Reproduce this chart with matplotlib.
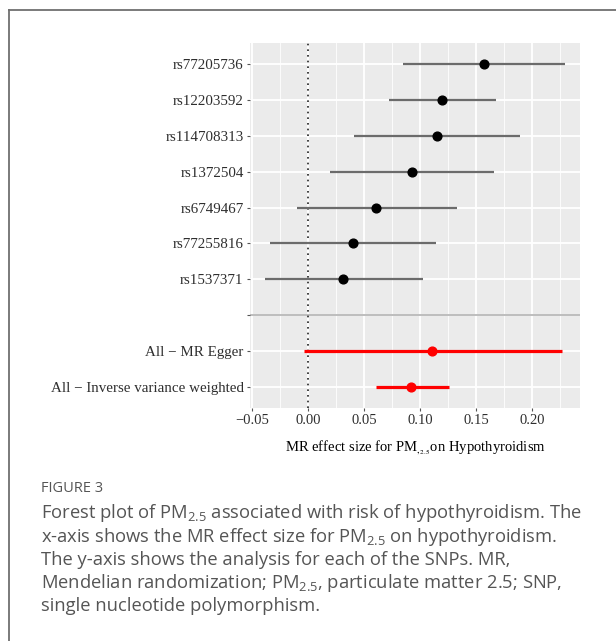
import matplotlib
matplotlib.use("Agg")
import matplotlib.pyplot as plt

# forest plot values
snps = ["rs77205736", "rs12203592", "rs114708313", "rs1372504",
        "rs6749467", "rs77255816", "rs1537371"]
snp_b = [0.157, 0.120, 0.115, 0.093, 0.061, 0.040, 0.031]
snp_lo = [0.085, 0.072, 0.041, 0.020, -0.010, -0.034, -0.038]
snp_hi = [0.229, 0.168, 0.189, 0.166, 0.133, 0.114, 0.103]

methods = ["All \u2212 MR Egger", "All \u2212 Inverse variance weighted"]
meth_b = [0.111, 0.092]
meth_lo = [-0.004, 0.061]
meth_hi = [0.227, 0.126]

xticks = [-0.05, 0.00, 0.05, 0.10, 0.15, 0.20]
xtick_labels = ["\u22120.05", "0.00", "0.05", "0.10", "0.15", "0.20"]

plt.rcParams["mathtext.fontset"] = "custom"
plt.rcParams["mathtext.rm"] = "Open Sans"

fig = plt.figure(figsize=(6.16, 6.41), dpi=100)

# outer frame (top and left only, as in the page scan)
fig.add_artist(plt.Line2D([9/616, 1.0], [1 - 10/641, 1 - 10/641], color="#6f6f6f", lw=1.3))
fig.add_artist(plt.Line2D([9/616, 9/616], [0.0, 1 - 10/641], color="#6f6f6f", lw=1.3))

ax = fig.add_axes([250/616, 1 - 408/641, 330/616, 365/641])
ax.set_facecolor("#EBEBEB")
for s in ax.spines.values():
    s.set_visible(False)

n_snp = len(snps)
n_meth = len(methods)
total = n_snp + 1 + n_meth
snp_y = [total - i for i in range(n_snp)]
sep_y = n_meth + 1
meth_y = [n_meth - i for i in range(n_meth)]

ax.set_xlim(-0.0518, 0.2428)
ax.set_ylim(0.4, total + 0.6)

# grid
for v in [-0.025, 0.025, 0.075, 0.125, 0.175, 0.225]:
    ax.axvline(v, color="white", lw=0.6, zorder=0)
for v in xticks:
    ax.axvline(v, color="white", lw=1.3, zorder=0)
for y in snp_y + [sep_y] + meth_y:
    ax.axhline(y, color="white", lw=1.3, zorder=0)

ax.axhline(sep_y, color="#bdbdbd", lw=1.4, zorder=1)
ax.axvline(0, color="#222222", lw=1.2, ls=(0, (1, 2.4)), zorder=2)

ax.hlines(snp_y, snp_lo, snp_hi, color="#6b6b6b", lw=1.6, zorder=3)
ax.plot(snp_b, snp_y, "o", color="black", ms=6.3, zorder=4)
ax.hlines(meth_y, meth_lo, meth_hi, color="#ff0000", lw=2.3, zorder=3)
ax.plot(meth_b, meth_y, "o", color="#ff0000", ms=6.3, zorder=4)

ax.set_yticks(snp_y + [sep_y] + meth_y)
ax.set_yticklabels(snps + [""] + methods, family="Liberation Serif",
                   fontsize=10.8, color="#2e2e2e")
ax.set_xticks(xticks)
ax.set_xticklabels(xtick_labels, family="Liberation Serif", fontsize=10.5, color="#2e2e2e")
ax.tick_params(length=2.5, width=0.8, color="#555555", pad=2)

ax.set_xlabel(r"MR effect size for PM$_{,\!_{2.5}}$on Hypothyroidism", family="Liberation Serif",
              fontsize=10.5, color="black", labelpad=8, math_fontfamily="stix")

# caption
fig.text(41/616, 1 - 489/641, "FIGURE 3", family="Open Sans", fontsize=10.5,
         color="#555555", va="center")
cap = ["Forest plot of PM$_{2.5}$ associated with risk of hypothyroidism. The",
       "x-axis shows the MR effect size for PM$_{2.5}$ on hypothyroidism.",
       "The y-axis shows the analysis for each of the SNPs. MR,",
       "Mendelian randomization; PM$_{2.5}$, particulate matter 2.5; SNP,",
       "single nucleotide polymorphism."]
cap_y = [513, 537, 560, 583, 606]
for line, yy in zip(cap, cap_y):
    fig.text(41/616, 1 - yy/641, line, family="Open Sans", fontsize=13.2,
             color="#555555", va="center")

fig.savefig("out.png", dpi=100)
